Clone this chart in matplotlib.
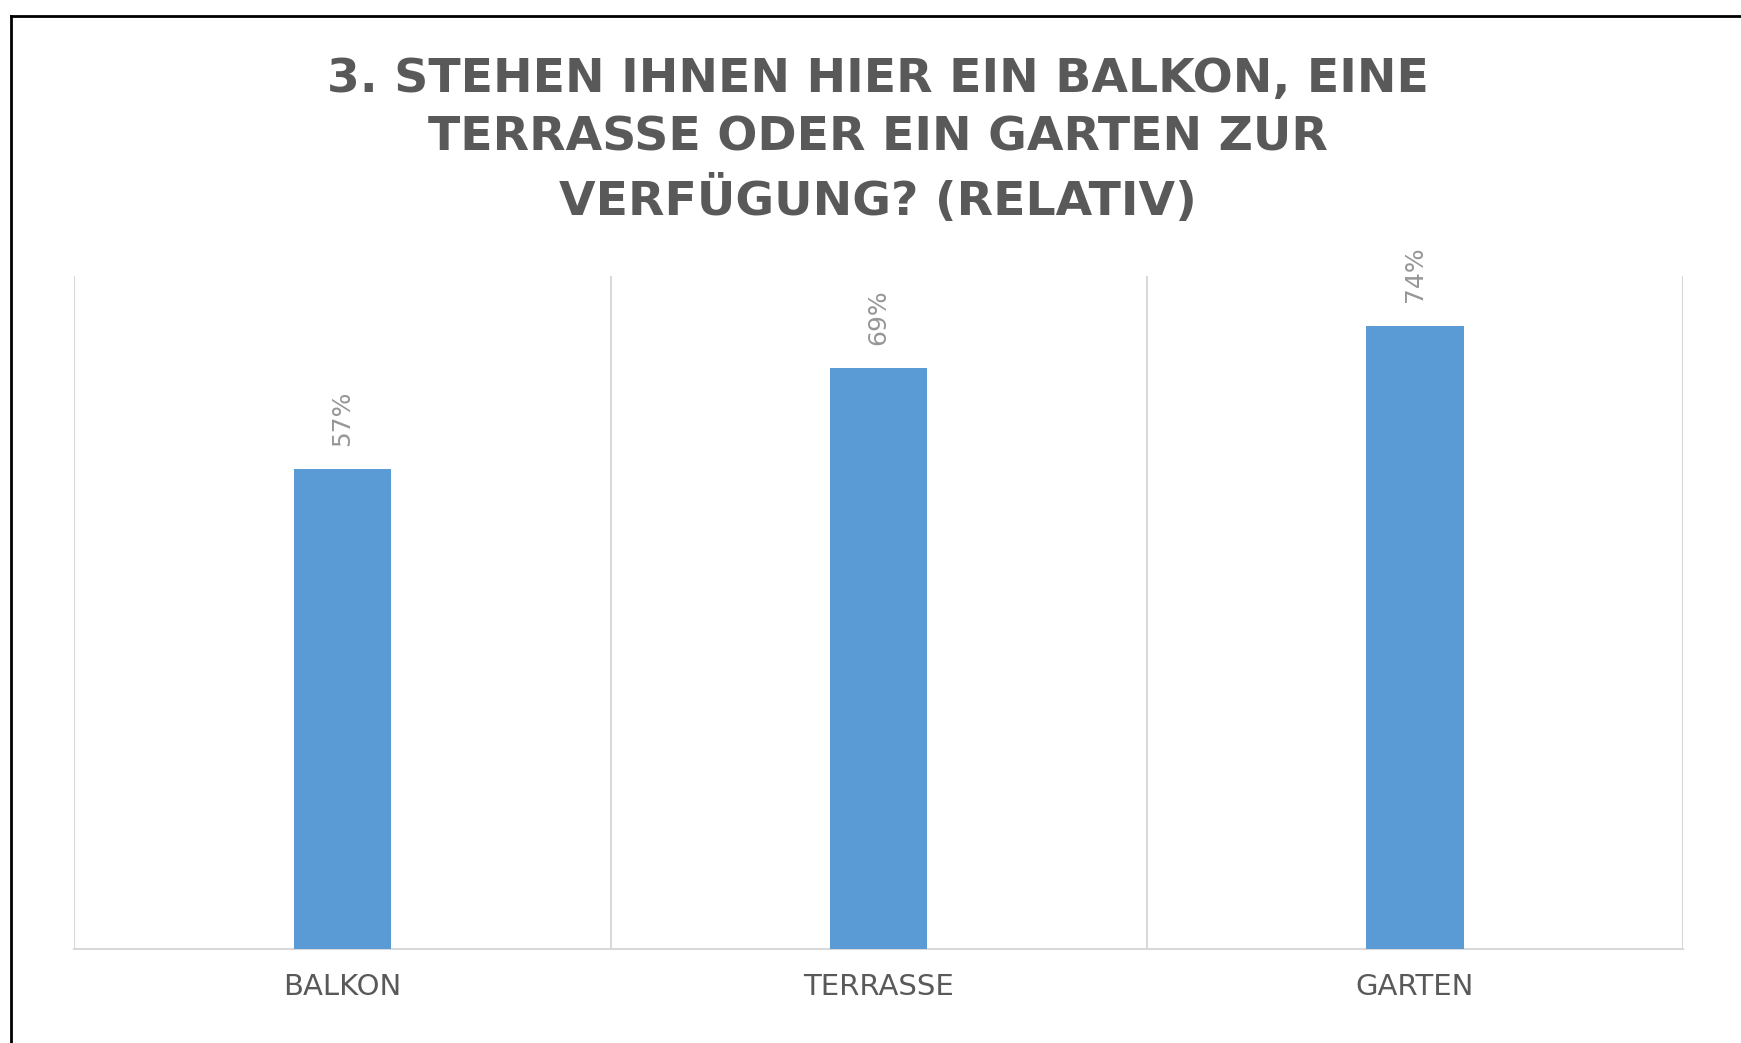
import numpy as np
import matplotlib
matplotlib.use('Agg')
import matplotlib.pyplot as plt
from matplotlib.lines import Line2D

# data
categories = ['BALKON', 'TERRASSE', 'GARTEN']
shares = [0.57, 0.69, 0.74]
value_labels = ['57%', '69%', '74%']
title = '3. STEHEN IHNEN HIER EIN BALKON, EINE\nTERRASSE ODER EIN GARTEN ZUR\nVERFÜGUNG? (RELATIV)'

BAR_COLOR = '#5B9BD5'
TEXT_COLOR = '#595959'
GRID_COLOR = '#d9d9d9'

fig = plt.figure(figsize=(17.41, 10.43), dpi=100)
ax = fig.add_axes([0.0427, 0.0898, 0.924, 0.646])

x = np.arange(len(categories))
bars = ax.bar(x, shares, width=0.182, color=BAR_COLOR, zorder=3)

for rect, lab in zip(bars, value_labels):
    ax.annotate(lab, (rect.get_x() + rect.get_width() / 2, rect.get_height()),
                xytext=(0, 17), textcoords='offset points',
                rotation=90, ha='center', va='bottom',
                fontsize=18, color='#969696', family='DejaVu Sans')

ax.set_xlim(-0.5, len(categories) - 0.5)
ax.set_ylim(0, 0.8)
ax.set_yticks([])
ax.set_xticks(x)
ax.set_xticklabels(categories, fontsize=21, color=TEXT_COLOR, family='DejaVu Sans')
ax.tick_params(axis='x', which='both', length=0, pad=17)
ax.set_xticks(np.arange(len(categories) + 1) - 0.5, minor=True)
ax.grid(axis='x', which='minor', color=GRID_COLOR, linewidth=1.5, zorder=0)
ax.grid(axis='x', which='major', visible=False)
for side in ['top', 'left', 'right']:
    ax.spines[side].set_visible(False)
ax.spines['bottom'].set_color(GRID_COLOR)
ax.spines['bottom'].set_linewidth(1.5)

fig.text(0.504, 0.865, title, ha='center', va='center', multialignment='center',
         fontsize=34, fontweight='bold', color=TEXT_COLOR, linespacing=1.4,
         family='DejaVu Sans')

# black frame lines at the left and top edges
fig.add_artist(Line2D([0.0063, 0.0063], [0, 0.985], transform=fig.transFigure,
                      color='black', linewidth=2))
fig.add_artist(Line2D([0.0063, 1], [0.985, 0.985], transform=fig.transFigure,
                      color='black', linewidth=2))

fig.savefig('out.png', dpi=100, facecolor='white')
